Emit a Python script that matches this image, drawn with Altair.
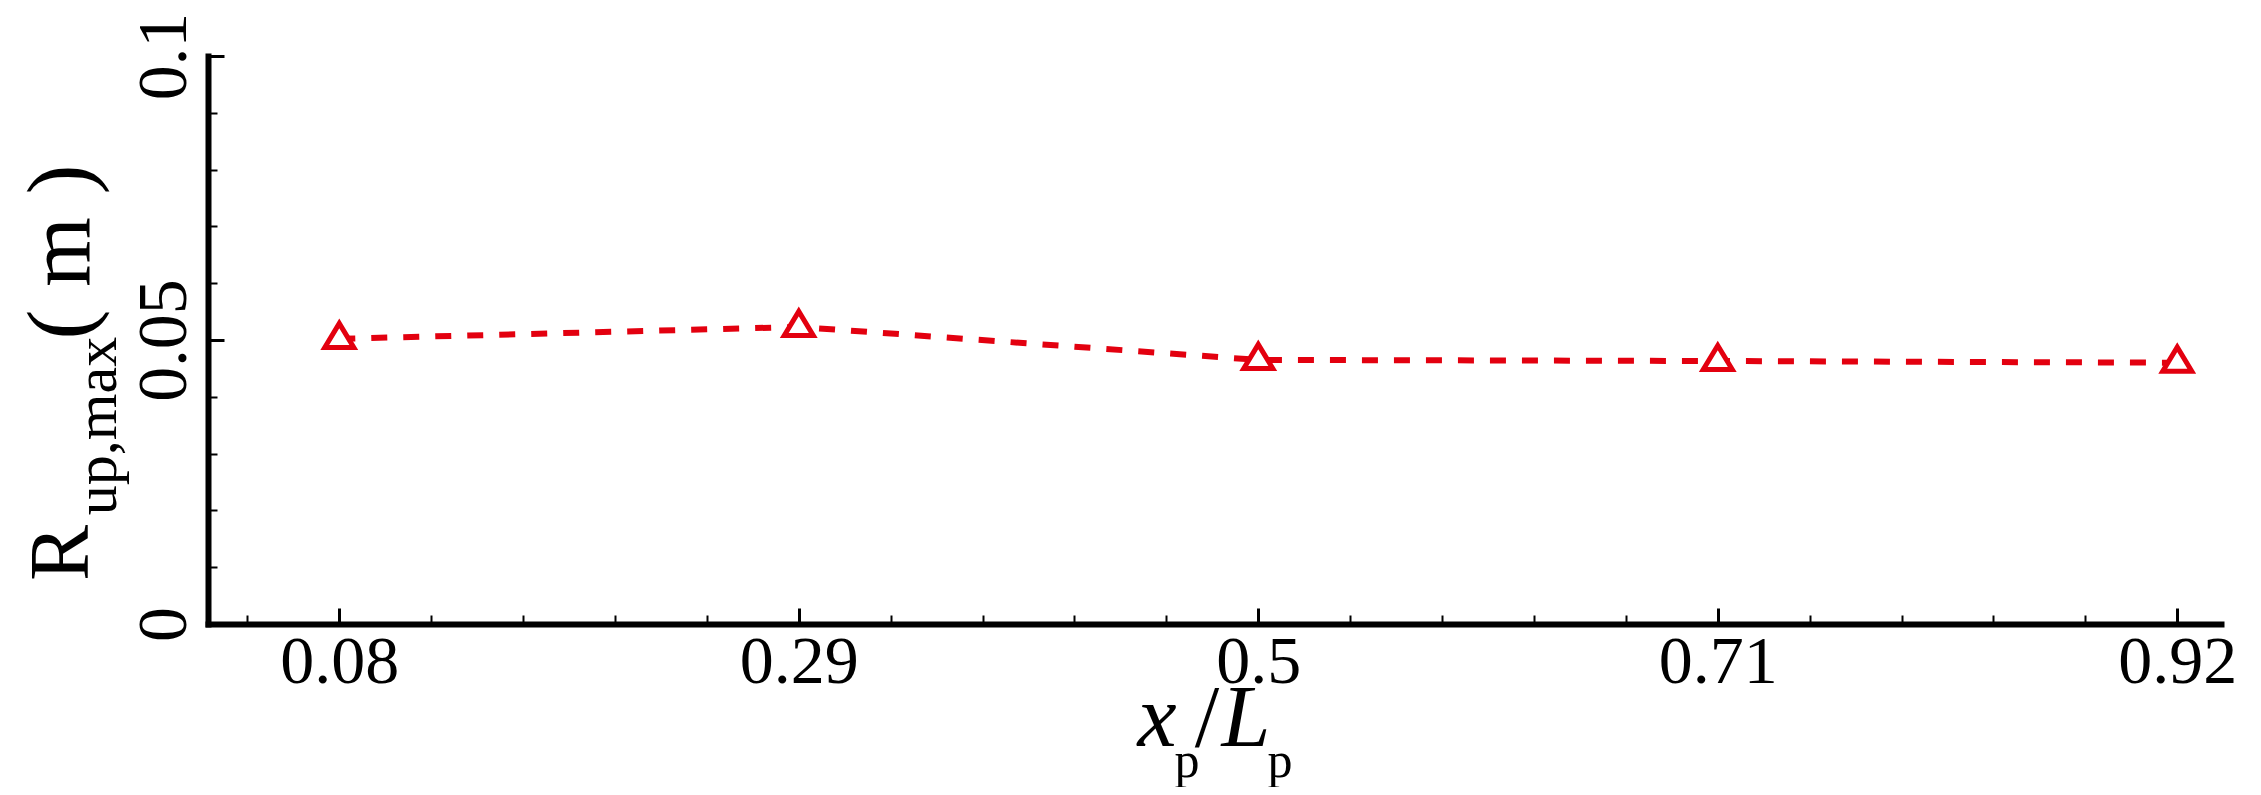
import altair as alt
import pandas as pd

# ---- data ----
x_pos = [0.08, 0.29, 0.5, 0.71, 0.92]
r_up_max = [0.0502, 0.0523, 0.0465, 0.0463, 0.0460]

x_major = [0.08, 0.29, 0.5, 0.71, 0.92]
x_minor = [0.038, 0.122, 0.164, 0.206, 0.248, 0.332, 0.374, 0.416, 0.458,
           0.542, 0.584, 0.626, 0.668, 0.752, 0.794, 0.836, 0.878]
y_major = [0.0, 0.05, 0.1]
y_minor = [0.01, 0.02, 0.03, 0.04, 0.06, 0.07, 0.08, 0.09]

RED = "#e3000f"
FONT = "Liberation Serif"
W, H = 2013, 568
LABEL_EXPR = "format(datum.value, '.2~f')"

df = pd.DataFrame({"x": x_pos, "y": r_up_max})
base = alt.Chart(df)

xs = alt.Scale(domain=[0.02, 0.94], nice=False, zero=False)
ys = alt.Scale(domain=[0.0, 0.1], nice=False, zero=False)


def tick_layer(xv, yv, size, width):
    return base.mark_point(opacity=0).encode(
        x=alt.X("x:Q", scale=xs, axis=alt.Axis(
            values=xv, labels=False, domain=False, ticks=True, tickSize=size,
            tickWidth=width, tickColor="black", offset=-size, orient="bottom",
            title=None, grid=False)),
        y=alt.Y("y:Q", scale=ys, axis=alt.Axis(
            values=yv, labels=False, domain=False, ticks=True, tickSize=size,
            tickWidth=width, tickColor="black", offset=-size, orient="left",
            title=None, grid=False)),
    )


minor = tick_layer(x_minor, y_minor, 9, 2)
major = tick_layer(x_major, y_major, 16, 3)

line = base.mark_line(color=RED, strokeWidth=6, strokeDash=[16, 16]).encode(
    x=alt.X("x:Q", scale=xs, axis=alt.Axis(
        values=x_major, labelExpr=LABEL_EXPR, ticks=False, tickSize=0, labelPadding=4,
        labelFont=FONT, labelFontSize=68, labelColor="black", labelFlush=False,
        labelOverlap=False, domainColor="black", domainWidth=6, domainCap="square",
        orient="bottom", title=None, grid=False)),
    y=alt.Y("y:Q", scale=ys, axis=alt.Axis(
        values=y_major, labelExpr=LABEL_EXPR, ticks=False, tickSize=0, labelPadding=23,
        labelAngle=270, labelAlign="center", labelBaseline="alphabetic",
        labelFont=FONT, labelFontSize=70, labelColor="black", labelFlush=False,
        labelOverlap=False, domainColor="black", domainWidth=6, domainCap="square",
        orient="left", title=None, grid=False)),
)

points = base.mark_point(
    shape="M-1,0.59L1,0.59L0,-1.07Z", size=841, filled=True, fill="white",
    stroke=RED, strokeWidth=5, opacity=1, strokeJoin="miter",
).encode(x=alt.X("x:Q", scale=xs, axis=None), y=alt.Y("y:Q", scale=ys, axis=None))

one = alt.Data(values=[{}])


def txt(s, x, y, size, angle=0, italic=False, baseline="alphabetic"):
    return alt.Chart(one).mark_text(
        text=s, font=FONT, fontSize=size, angle=angle, align="center",
        baseline=baseline, color="black", fontStyle="italic" if italic else "normal",
    ).encode(x=alt.value(x), y=alt.value(y))


titles = [
    # y title: R_{up,max} ( m )
    txt("R", -120, 497, 84, angle=270),
    txt("up,max", -92, 370, 60, angle=270),
    txt("(   m   )", -118, 196, 90, angle=270),
    # x title: x_p / L_p
    txt("x", 949, 690, 88, italic=True),
    txt("p", 979, 721, 50),
    txt("/", 999, 690, 88),
    txt("L", 1038, 690, 88, italic=True),
    txt("p", 1072, 721, 50),
]

chart = alt.layer(minor, major, line, points, *titles).resolve_axis(
    x="independent", y="independent"
).properties(
    width=W, height=H,
    autosize=alt.AutoSizeParams(type="none"),
    padding={"left": 200, "top": 48, "right": 30, "bottom": 163},
    background="white",
).configure_view(stroke=None)

chart.save("out.html", embed_options={"renderer": "svg", "actions": False})
